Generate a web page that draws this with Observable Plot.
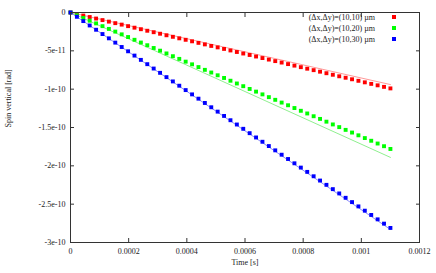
<!DOCTYPE html>
<html>
<head>
<meta charset="utf-8">
<script src="https://cdn.jsdelivr.net/npm/d3@7"></script>
<script src="https://cdn.jsdelivr.net/npm/@observablehq/plot@0.6"></script>
<style>
  html, body { margin: 0; padding: 0; background: white; }
  svg { display: block; }
</style>
</head>
<body>
<div id="chart"></div>
<script>
// Values are in units of 1e-12 rad (converted when building the table)
const UNIT = 1e-12;
const times = [0, 0.000022, 0.000044, 0.000066, 0.000088, 0.00011, 0.000132, 0.000154, 0.000176, 0.000198,
  0.00022, 0.000242, 0.000264, 0.000286, 0.000308, 0.00033, 0.000352, 0.000374, 0.000396, 0.000418,
  0.00044, 0.000462, 0.000484, 0.000506, 0.000528, 0.00055, 0.000572, 0.000594, 0.000616, 0.000638,
  0.00066, 0.000682, 0.000704, 0.000726, 0.000748, 0.00077, 0.000792, 0.000814, 0.000836, 0.000858,
  0.00088, 0.000902, 0.000924, 0.000946, 0.000968, 0.00099, 0.001012, 0.001034, 0.001056, 0.001078, 0.0011];
const spin1010 = [0, -2.0, -4.0, -5.9, -7.9, -9.9, -11.9, -13.9, -15.8, -17.8, -19.8, -21.8, -23.8, -25.7, -27.7,
  -29.7, -31.7, -33.7, -35.6, -37.6, -39.6, -41.6, -43.6, -45.5, -47.5, -49.5, -51.5, -53.5, -55.4, -57.4,
  -59.4, -61.4, -63.4, -65.3, -67.3, -69.3, -71.3, -73.3, -75.2, -77.2, -79.2, -81.2, -83.2, -85.1, -87.1,
  -89.1, -91.1, -93.1, -95.0, -97.0, -99.0];
const spin1020 = [0, -3.6, -7.1, -10.7, -14.2, -17.8, -21.4, -24.9, -28.5, -32.0, -35.6, -39.2, -42.7, -46.3, -49.8,
  -53.4, -57.0, -60.5, -64.1, -67.6, -71.2, -74.8, -78.3, -81.9, -85.4, -89.0, -92.6, -96.1, -99.7, -103.2,
  -106.8, -110.4, -113.9, -117.5, -121.0, -124.6, -128.2, -131.7, -135.3, -138.8, -142.4, -146.0, -149.5, -153.1, -156.6,
  -160.2, -163.8, -167.3, -170.9, -174.4, -178.0];
const spin1030 = [0, -5.6, -11.2, -16.9, -22.5, -28.1, -33.7, -39.3, -45.0, -50.6, -56.2, -61.8, -67.4, -73.1, -78.7,
  -84.3, -89.9, -95.5, -101.2, -106.8, -112.4, -118.0, -123.6, -129.3, -134.9, -140.5, -146.1, -151.7, -157.4, -163.0,
  -168.6, -174.2, -179.8, -185.5, -191.1, -196.7, -202.3, -207.9, -213.6, -219.2, -224.8, -230.4, -236.0, -241.7, -247.3,
  -252.9, -258.5, -264.1, -269.8, -275.4, -281.0];
// reference (theory) lines
const lineTimes = [0, 0.0011];
const line1010 = [0, -94];
const line1020 = [0, -189];
const line1030 = [0, -283];

const seriesNames = ["(Δx,Δy)=(10,10) µm", "(Δx,Δy)=(10,20) µm", "(Δx,Δy)=(10,30) µm"];
const markerColors = ["#ff0000", "#00ff00", "#0000ff"];
const lineColors = ["#ff9a9a", "#8ff08f", "#8c8cff"];

const xTicks = [0, 0.0002, 0.0004, 0.0006, 0.0008, 0.001, 0.0012];
const xTickLabels = ["0", "0.0002", "0.0004", "0.0006", "0.0008", "0.001", "0.0012"];
const yTicks = [0, -5e-11, -1e-10, -1.5e-10, -2e-10, -2.5e-10, -3e-10];
const yTickLabels = ["0", "-5e-11", "-1e-10", "-1.5e-10", "-2e-10", "-2.5e-10", "-3e-10"];

const allSpins = [spin1010, spin1020, spin1030];
const allLines = [line1010, line1020, line1030];
const points = [];
allSpins.forEach((arr, s) => arr.forEach((v, i) => points.push({t: times[i], v: v * UNIT, s})));
const lines = [];
allLines.forEach((arr, s) => arr.forEach((v, i) => lines.push({t: lineTimes[i], v: v * UNIT, s})));

const fmtX = d => xTickLabels[xTicks.indexOf(d)];
const fmtY = d => yTickLabels[yTicks.findIndex(t => Math.abs(t - d) < 1e-14)];

const chart = Plot.plot({
  width: 436,
  height: 273,
  marginLeft: 70,
  marginRight: 17,
  marginTop: 12,
  marginBottom: 31,
  x: {domain: [0, 0.0012]},
  y: {domain: [-3e-10, 0]},
  style: {fontFamily: "'Liberation Serif', serif", fontSize: "8px", background: "white", color: "#222"},
  marks: [
    Plot.line(lines, {x: "t", y: "v", z: "s", stroke: d => lineColors[d.s], strokeWidth: 1}),
    Plot.dot(points, {x: "t", y: "v", symbol: "square", r: 2.2, fill: d => markerColors[d.s], stroke: "none"}),
    Plot.frame({stroke: "#333", strokeWidth: 1}),
    Plot.axisX({anchor: "bottom", ticks: xTicks, tickSize: -4, tickPadding: 10, tickFormat: fmtX, label: null, stroke: "#333"}),
    Plot.axisX({anchor: "top", ticks: xTicks, tickSize: -4, tickFormat: () => "", label: null, stroke: "#333"}),
    Plot.axisY({anchor: "left", ticks: yTicks, tickSize: -4, tickPadding: 9, tickFormat: fmtY, label: null, stroke: "#333"}),
    Plot.axisY({anchor: "right", ticks: yTicks, tickSize: -4, tickFormat: () => "", label: null, stroke: "#333"}),
    Plot.text(["Time [s]"], {frameAnchor: "bottom", dy: 22, fill: "#222"}),
    Plot.text(["Spin vertical [rad]"], {frameAnchor: "left", dx: -62, rotate: -90, fill: "#222"})
  ]
});

// legend (inside plot, top-right)
const svg = d3.select(chart);
const leg = svg.append("g").attr("font-family", "'Liberation Serif', serif").attr("font-size", "8px");
seriesNames.forEach((name, i) => {
  const y = 17 + i * 11;
  leg.append("text").attr("x", 375).attr("y", y).attr("dy", "0.32em").attr("text-anchor", "end").attr("fill", "#222").text(name);
  leg.append("rect").attr("x", 392).attr("y", y - 2).attr("width", 4).attr("height", 4).attr("fill", markerColors[i]);
});

document.getElementById("chart").appendChild(chart);
</script>
</body>
</html>
